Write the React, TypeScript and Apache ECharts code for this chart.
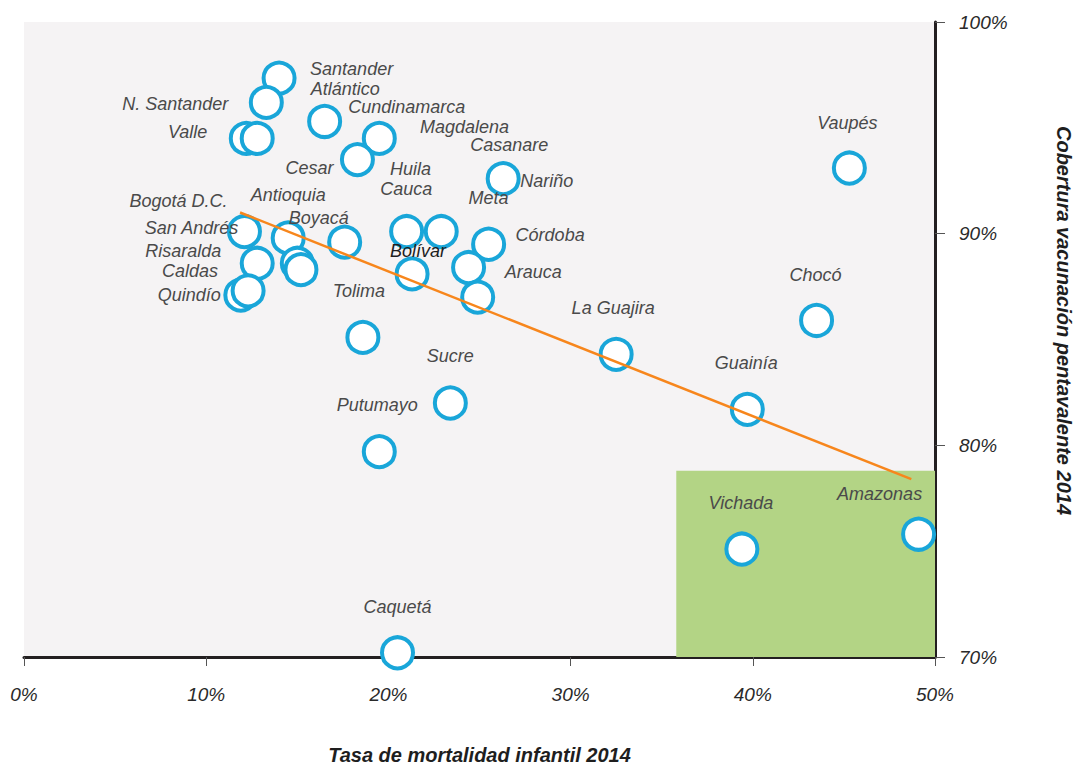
import React, { useEffect, useRef } from "react";
import * as echarts from "echarts";

const names = [
  "Santander", "N. Santander", "Atlántico", "Valle", "Casanare", "Cundinamarca", "Cesar", "Nariño",
  "Vaupés", "Bogotá D.C.", "Antioquia", "Boyacá", "Huila", "Cauca", "Córdoba", "San Andrés",
  "Risaralda", "Magdalena", "Meta", "Bolívar", "Arauca", "Quindío", "Caldas", "Tolima",
  "La Guajira", "Chocó", "Sucre", "Putumayo", "Guainía", "Vichada", "Amazonas", "Caquetá",
];
const mortality = [
  14.0, 13.3, 16.5, 12.2, 12.8, 19.5, 18.3, 26.3,
  45.3, 12.1, 14.5, 17.6, 21.0, 22.9, 25.5, 12.8,
  15.0, 15.2, 24.4, 21.3, 24.9, 11.9, 12.3, 18.6,
  32.5, 43.5, 23.4, 19.5, 39.7, 39.4, 49.1, 20.5,
];
const coverage = [
  97.35, 96.2, 95.3, 94.5, 94.5, 94.5, 93.5, 92.6,
  93.1, 90.1, 89.8, 89.6, 90.1, 90.1, 89.5, 88.6,
  88.6, 88.3, 88.4, 88.1, 87.0, 87.1, 87.3, 85.1,
  84.3, 85.9, 82.0, 79.7, 81.7, 75.1, 75.8, 70.2,
];
const trendX = [11.86, 48.7];
const trendY = [91.0, 78.4];
const xTicks = [0, 10, 20, 30, 40, 50];
const yTicks = [70, 80, 90, 100];
const highlightX = [35.8, 50];
const highlightY = [70, 78.8];

// label placement (pixel offsets from circle centre) — style only
const labelStyle: Record<string, [number, number, string]> = {
  "Santander": [31, -9, "left"],
  "N. Santander": [-38, 2, "right"],
  "Atlántico": [-14, -32, "left"],
  "Valle": [-39, -6, "right"],
  "Casanare": [213, 7, "left"],
  "Cundinamarca": [-31, -31, "left"],
  "Cesar": [-24, 8, "right"],
  "Nariño": [17, 2, "left"],
  "Vaupés": [-2, -45, "center"],
  "Bogotá D.C.": [-17, -31, "right"],
  "Antioquia": [0, -43, "center"],
  "Boyacá": [-26, -24, "center"],
  "Huila": [4, -63, "center"],
  "Cauca": [-35, -43, "center"],
  "Córdoba": [27, -9, "left"],
  "San Andrés": [-19, -35, "right"],
  "Risaralda": [-76, -12, "right"],
  "Magdalena": [119, -143, "left"],
  "Meta": [20, -70, "center"],
  "Bolívar": [6, -23, "center"],
  "Arauca": [27, -25, "left"],
  "Quindío": [-20, 0, "right"],
  "Caldas": [-30, -20, "right"],
  "Tolima": [-4, -46, "center"],
  "La Guajira": [-3, -46, "center"],
  "Chocó": [-1, -45, "center"],
  "Sucre": [0, -47, "center"],
  "Putumayo": [-2, -47, "center"],
  "Guainía": [-1, -46, "center"],
  "Vichada": [-1, -46, "center"],
  "Amazonas": [-39, -40, "center"],
  "Caquetá": [0, -46, "center"],
};

const FONT = "'Liberation Sans Narrow', 'Liberation Sans', Arial, sans-serif";

export default function App() {
  const ref = useRef<HTMLDivElement>(null);
  useEffect(() => {
    if (!ref.current) return;
    document.documentElement.style.overflow = "hidden";
    document.body.style.overflow = "hidden";
    document.body.style.margin = "0";
    const chart = echarts.init(ref.current, undefined, { renderer: "svg", width: 1080, height: 766 });
    const points = names.map((n, i) => {
      const s = labelStyle[n] || [0, -45, "center"];
      return {
        name: n,
        value: [mortality[i], coverage[i]],
        label: {
          offset: [s[0], s[1]],
          align: s[2],
          color: n === "Bolívar" ? "#1e1e1e" : "#4a4a4a",
        },
      };
    });
    chart.setOption({
      animation: false,
      backgroundColor: "#ffffff",
      grid: {
        left: 24,
        right: 145,
        top: 22,
        bottom: 109,
        containLabel: false,
        outerBoundsMode: "none",
        show: true,
        backgroundColor: "#f5f3f4",
        borderWidth: 0,
      },
      xAxis: {
        type: "value",
        min: xTicks[0],
        max: xTicks[xTicks.length - 1],
        interval: 10,
        splitLine: { show: false },
        axisLine: { show: true, onZero: false, lineStyle: { color: "#231f20", width: 3 } },
        axisTick: { show: true, length: 9, lineStyle: { color: "#555", width: 1 } },
        axisLabel: {
          formatter: "{value}%",
          fontFamily: FONT,
          fontStyle: "italic",
          fontSize: 19,
          color: "#2a2a2a",
          margin: 28,
        },
        name: "Tasa de mortalidad infantil 2014",
        nameLocation: "middle",
        nameGap: 88,
        nameTextStyle: {
          fontFamily: FONT,
          fontStyle: "italic",
          fontWeight: "bold",
          fontSize: 20,
          color: "#1e1e1e",
        },
      },
      yAxis: {
        type: "value",
        position: "right",
        min: yTicks[0],
        max: yTicks[yTicks.length - 1],
        interval: 10,
        splitLine: { show: false },
        axisLine: { show: true, onZero: false, lineStyle: { color: "#231f20", width: 3 } },
        axisTick: { show: true, length: 10, lineStyle: { color: "#555", width: 1 } },
        axisLabel: {
          formatter: "{value}%",
          fontFamily: FONT,
          fontStyle: "italic",
          fontSize: 19,
          color: "#2a2a2a",
          margin: 24,
        },
        name: "Cobertura vacunación pentavalente 2014",
        nameLocation: "middle",
        nameRotate: -90,
        nameGap: 119,
        nameTextStyle: {
          fontFamily: FONT,
          fontStyle: "italic",
          fontWeight: "bold",
          fontSize: 20,
          color: "#1e1e1e",
          padding: [0, 38, 0, 0],
        },
      },
      series: [
        {
          type: "scatter",
          clip: false,
          symbol: "circle",
          symbolSize: 31,
          z: 2,
          itemStyle: { color: "#ffffff", borderColor: "#19a6d9", borderWidth: 4, opacity: 1 },
          label: {
            show: true,
            position: "inside",
            formatter: "{b}",
            verticalAlign: "middle",
            fontFamily: FONT,
            fontStyle: "italic",
            fontSize: 18,
            color: "#4a4a4a",
          },
          emphasis: { disabled: true },
          markArea: {
            silent: true,
            itemStyle: { color: "#b3d485", opacity: 1 },
            data: [[
              { coord: [highlightX[0], highlightY[0]] },
              { coord: [highlightX[1], highlightY[1]] },
            ]],
          },
          data: points,
        },
        {
          type: "line",
          z: 5,
          symbol: "none",
          silent: true,
          lineStyle: { color: "#f7861c", width: 2.5 },
          data: trendX.map((x, i) => [x, trendY[i]]),
        },
      ],
    });
    return () => chart.dispose();
  }, []);
  return <div ref={ref} style={{ width: 1080, height: 766, position: "absolute", left: 0, top: 0 }} />;
}
